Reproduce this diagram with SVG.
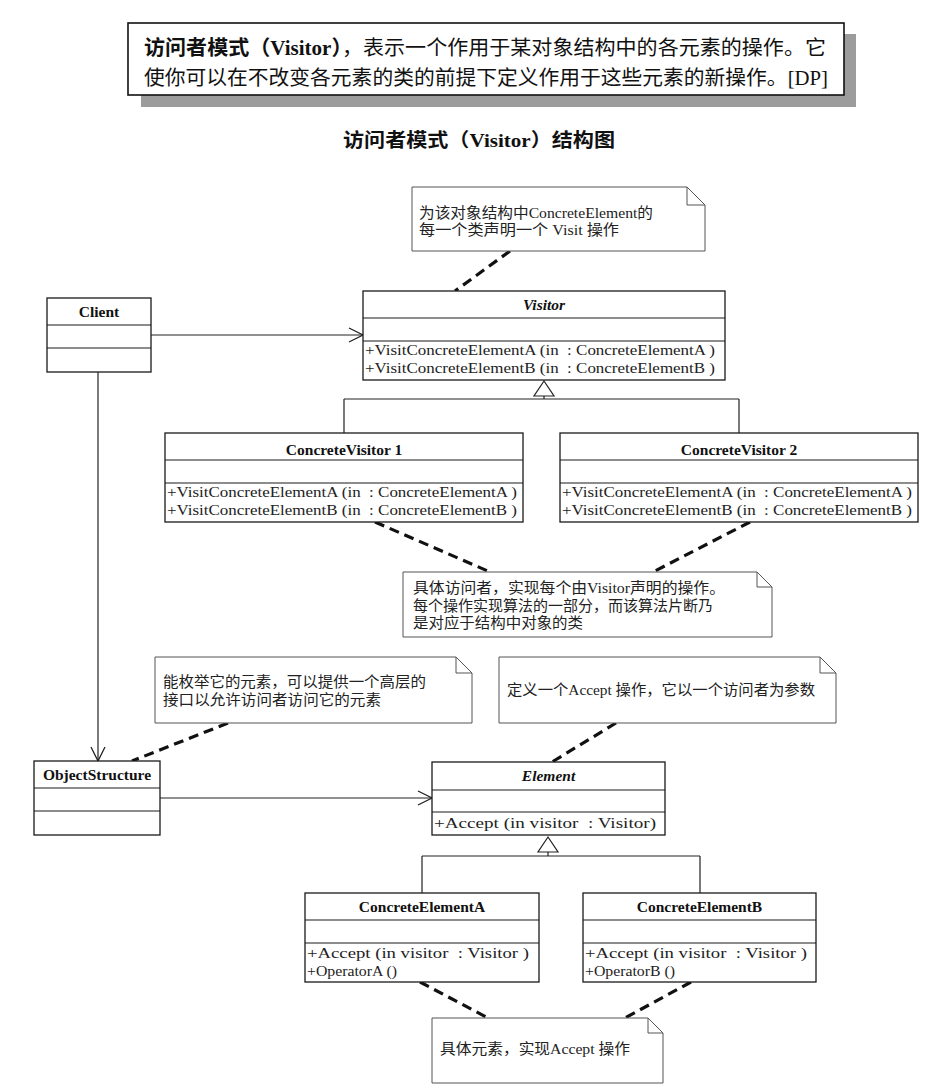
<svg xmlns="http://www.w3.org/2000/svg" width="946" height="1088" viewBox="0 0 946 1088">
<style>
.cls{fill:#fff;stroke:#1a1a1a;stroke-width:1.3}
.div{stroke:#1a1a1a;stroke-width:1.2}
.name{font-family:"Liberation Serif","Times New Roman",serif;font-weight:bold;font-size:15.5px;fill:#111;text-anchor:middle}
.ital{font-style:italic}
.meth{font-family:"Liberation Serif","Times New Roman",serif;font-size:15px;fill:#222;white-space:pre}
.note{fill:#fff;stroke:#555;stroke-width:1}
.ntxt{font-family:"Liberation Serif","Noto Sans CJK SC",serif;font-size:15px;fill:#222}
.dash{stroke:#111;stroke-width:3.2;stroke-dasharray:10 6;fill:none}
.conn{stroke:#222;stroke-width:1.2;fill:none}
.big{font-family:"Liberation Serif","Noto Sans CJK SC",serif;font-size:20.5px;fill:#111}
</style>
<defs>
<marker id="open" viewBox="-16 -9 18 18" refX="0" refY="0" markerWidth="18" markerHeight="18" markerUnits="userSpaceOnUse" orient="auto">
<path d="M-14,-7 L0,0 L-14,7" fill="none" stroke="#222" stroke-width="1.3"/>
</marker>
</defs>
<rect width="946" height="1088" fill="#fff"/>

<g id="definition">
<rect x="141" y="34" width="715" height="73" fill="#9c9c9c"/>
<rect x="128" y="23" width="716" height="72" fill="#fff" stroke="#111" stroke-width="1.6"/>
<text class="big" x="144" y="55" textLength="682" lengthAdjust="spacingAndGlyphs"><tspan font-weight="bold">访问者模式（Visitor）</tspan>，表示一个作用于某对象结构中的各元素的操作。它</text>
<text class="big" x="144" y="85" textLength="684" lengthAdjust="spacingAndGlyphs">使你可以在不改变各元素的类的前提下定义作用于这些元素的新操作。[DP]</text>
</g>

<g id="title">
<text x="343" y="147" font-family="Liberation Serif,Noto Sans CJK SC,serif" font-weight="bold" font-size="19" fill="#111" textLength="272" lengthAdjust="spacingAndGlyphs">访问者模式（Visitor）结构图</text>
</g>

<g id="connectors">
<line class="dash" x1="510" y1="251" x2="455" y2="291"/>
<line class="dash" x1="375" y1="522" x2="490" y2="572"/>
<line class="dash" x1="750" y1="522" x2="653" y2="572"/>
<line class="dash" x1="228" y1="723" x2="132" y2="761"/>
<line class="dash" x1="616" y1="723" x2="552" y2="762"/>
<line class="dash" x1="420" y1="982" x2="488" y2="1018"/>
<line class="dash" x1="691" y1="982" x2="625" y2="1018"/>
<line class="conn" x1="151" y1="335" x2="363" y2="335" marker-end="url(#open)"/>
<line class="conn" x1="98" y1="372" x2="98" y2="761" marker-end="url(#open)"/>
<line class="conn" x1="160" y1="798" x2="432" y2="798" marker-end="url(#open)"/>
<polygon points="544,381 554,396 534,396" fill="#fff" stroke="#222" stroke-width="1.2"/>
<path class="conn" d="M544,396 V399 M344,399 H739 M344,399 V433 M739,399 V433"/>
<polygon points="548,837 558,852 538,852" fill="#fff" stroke="#222" stroke-width="1.2"/>
<path class="conn" d="M548,852 V856 M422,856 H700 M422,856 V893 M700,856 V893"/>
</g>

<g id="note-visitor">
<path class="note" d="M412,187 H687 L705,205 V251 H412 Z M687,187 V205 H705"/>
<text class="ntxt" x="419" y="218" textLength="234" lengthAdjust="spacingAndGlyphs">为该对象结构中ConcreteElement的</text>
<text class="ntxt" x="419" y="235" textLength="200" lengthAdjust="spacingAndGlyphs">每一个类声明一个 Visit 操作</text>
</g>

<g id="client">
<rect class="cls" x="47" y="298" width="104" height="74"/>
<line class="div" x1="47" y1="325" x2="151" y2="325"/>
<line class="div" x1="47" y1="348" x2="151" y2="348"/>
<text class="name" x="99" y="317">Client</text>
</g>

<g id="visitor">
<rect class="cls" x="363" y="291" width="362" height="89"/>
<line class="div" x1="363" y1="318" x2="725" y2="318"/>
<line class="div" x1="363" y1="341" x2="725" y2="341"/>
<text class="name ital" x="544" y="310">Visitor</text>
<text class="meth" x="365" y="355" textLength="350" lengthAdjust="spacingAndGlyphs">+VisitConcreteElementA (in  : ConcreteElementA )</text>
<text class="meth" x="365" y="373" textLength="350" lengthAdjust="spacingAndGlyphs">+VisitConcreteElementB (in  : ConcreteElementB )</text>
</g>

<g id="concrete-visitor-1">
<rect class="cls" x="165" y="433" width="358" height="89"/>
<line class="div" x1="165" y1="460" x2="523" y2="460"/>
<line class="div" x1="165" y1="483" x2="523" y2="483"/>
<text class="name" x="344" y="455">ConcreteVisitor 1</text>
<text class="meth" x="167" y="497" textLength="350" lengthAdjust="spacingAndGlyphs">+VisitConcreteElementA (in  : ConcreteElementA )</text>
<text class="meth" x="167" y="515" textLength="350" lengthAdjust="spacingAndGlyphs">+VisitConcreteElementB (in  : ConcreteElementB )</text>
</g>

<g id="concrete-visitor-2">
<rect class="cls" x="560" y="433" width="358" height="89"/>
<line class="div" x1="560" y1="460" x2="918" y2="460"/>
<line class="div" x1="560" y1="483" x2="918" y2="483"/>
<text class="name" x="739" y="455">ConcreteVisitor 2</text>
<text class="meth" x="562" y="497" textLength="350" lengthAdjust="spacingAndGlyphs">+VisitConcreteElementA (in  : ConcreteElementA )</text>
<text class="meth" x="562" y="515" textLength="350" lengthAdjust="spacingAndGlyphs">+VisitConcreteElementB (in  : ConcreteElementB )</text>
</g>

<g id="note-concrete-visitor">
<path class="note" d="M403,572 H757 L772,587 V637 H403 Z M757,572 V587 H772"/>
<text class="ntxt" x="413" y="593" textLength="312" lengthAdjust="spacingAndGlyphs">具体访问者，实现每个由Visitor声明的操作。</text>
<text class="ntxt" x="413" y="611" textLength="300" lengthAdjust="spacingAndGlyphs">每个操作实现算法的一部分，而该算法片断乃</text>
<text class="ntxt" x="413" y="628" textLength="170" lengthAdjust="spacingAndGlyphs">是对应于结构中对象的类</text>
</g>

<g id="note-object-structure">
<path class="note" d="M155,657 H456 L472,673 V723 H155 Z M456,657 V673 H472"/>
<text class="ntxt" x="163" y="687" textLength="263" lengthAdjust="spacingAndGlyphs">能枚举它的元素，可以提供一个高层的</text>
<text class="ntxt" x="163" y="705" textLength="218" lengthAdjust="spacingAndGlyphs">接口以允许访问者访问它的元素</text>
</g>

<g id="note-element">
<path class="note" d="M499,657 H820 L836,673 V723 H499 Z M820,657 V673 H836"/>
<text class="ntxt" x="507" y="695" textLength="308" lengthAdjust="spacingAndGlyphs">定义一个Accept 操作，它以一个访问者为参数</text>
</g>

<g id="object-structure">
<rect class="cls" x="34" y="761" width="126" height="74"/>
<line class="div" x1="34" y1="788" x2="160" y2="788"/>
<line class="div" x1="34" y1="811" x2="160" y2="811"/>
<text class="name" x="97" y="780">ObjectStructure</text>
</g>

<g id="element">
<rect class="cls" x="432" y="762" width="233" height="73"/>
<line class="div" x1="432" y1="790" x2="665" y2="790"/>
<line class="div" x1="432" y1="812" x2="665" y2="812"/>
<text class="name ital" x="548.5" y="781">Element</text>
<text class="meth" x="434" y="828" textLength="222" lengthAdjust="spacingAndGlyphs">+Accept (in visitor  : Visitor)</text>
</g>

<g id="concrete-element-a">
<rect class="cls" x="305" y="893" width="234" height="89"/>
<line class="div" x1="305" y1="920" x2="539" y2="920"/>
<line class="div" x1="305" y1="943" x2="539" y2="943"/>
<text class="name" x="422" y="912">ConcreteElementA</text>
<text class="meth" x="307" y="958" textLength="222" lengthAdjust="spacingAndGlyphs">+Accept (in visitor  : Visitor )</text>
<text class="meth" x="307" y="976" textLength="90" lengthAdjust="spacingAndGlyphs">+OperatorA ()</text>
</g>

<g id="concrete-element-b">
<rect class="cls" x="583" y="893" width="233" height="89"/>
<line class="div" x1="583" y1="920" x2="816" y2="920"/>
<line class="div" x1="583" y1="943" x2="816" y2="943"/>
<text class="name" x="699.5" y="912">ConcreteElementB</text>
<text class="meth" x="585" y="958" textLength="222" lengthAdjust="spacingAndGlyphs">+Accept (in visitor  : Visitor )</text>
<text class="meth" x="585" y="976" textLength="90" lengthAdjust="spacingAndGlyphs">+OperatorB ()</text>
</g>

<g id="note-concrete-element">
<path class="note" d="M432,1018 H648 L663,1033 V1083 H432 Z M648,1018 V1033 H663"/>
<text class="ntxt" x="440" y="1054" textLength="190" lengthAdjust="spacingAndGlyphs">具体元素，实现Accept 操作</text>
</g>
</svg>
